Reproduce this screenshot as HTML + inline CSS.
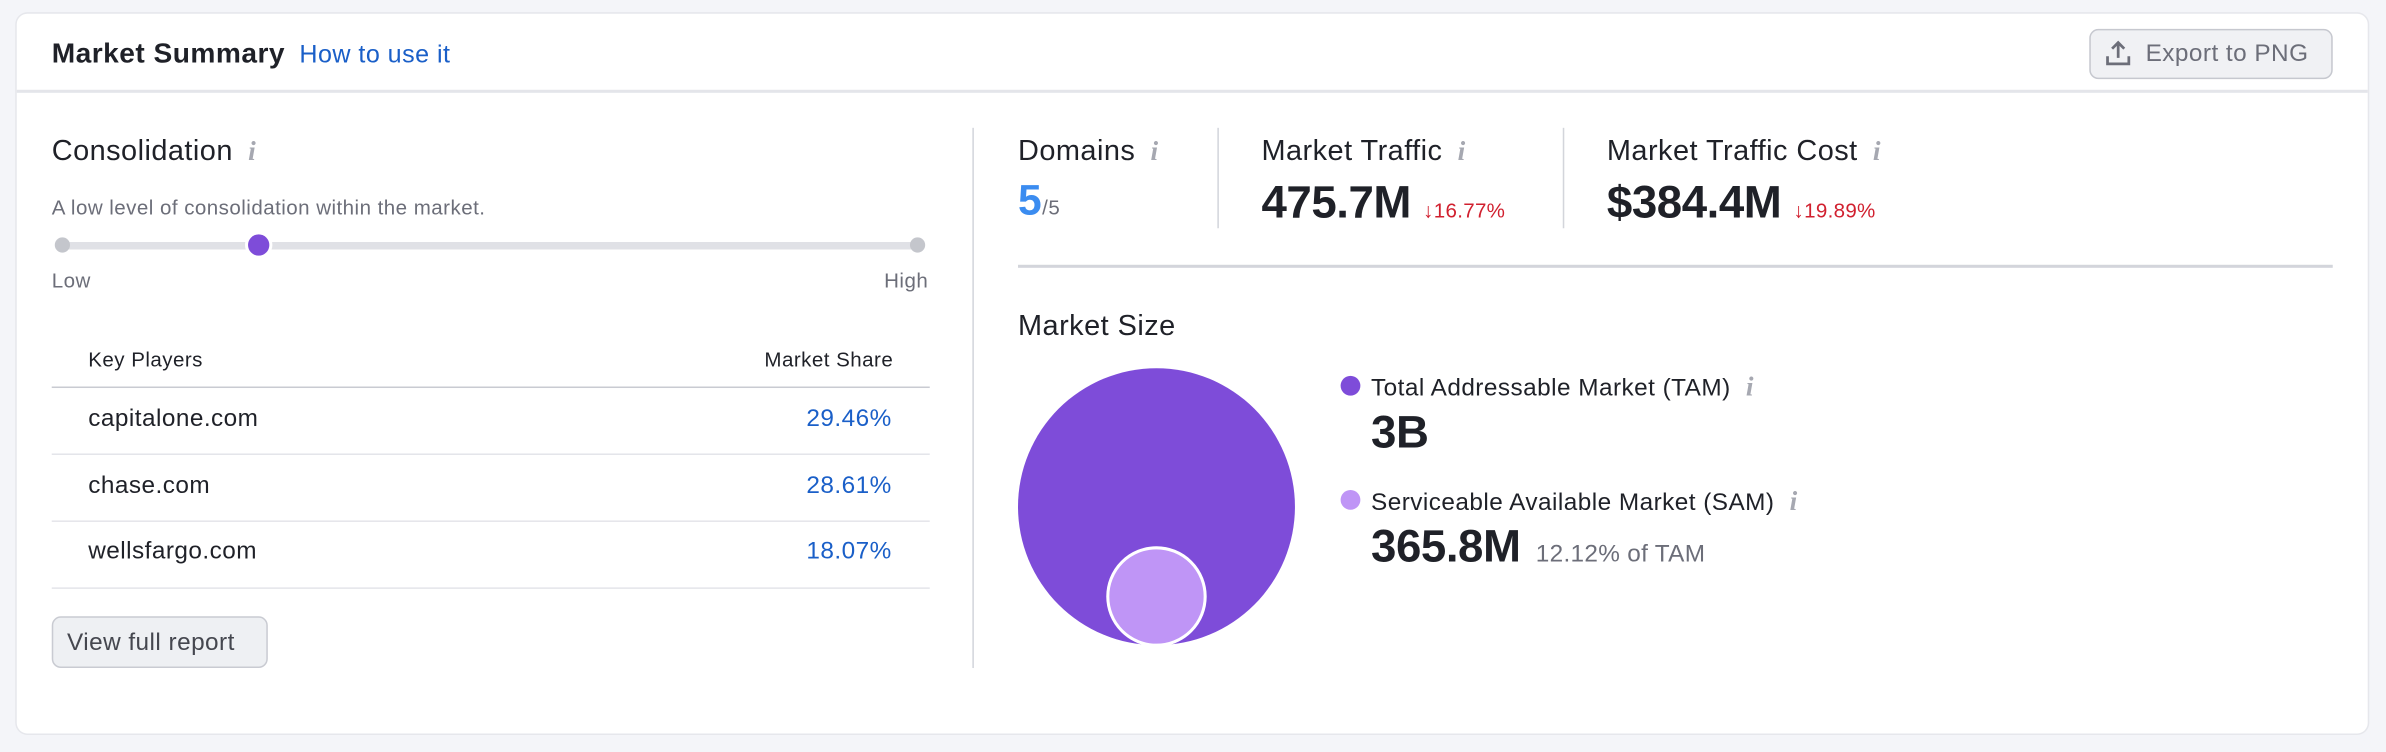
<!DOCTYPE html>
<html><head><meta charset="utf-8"><style>
*{margin:0;padding:0;box-sizing:border-box}
html,body{width:2386px;height:752px;overflow:hidden;background:#f4f5f9}
#w{position:absolute;left:0;top:0;width:1568px;height:494px;transform:scale(1.52168);transform-origin:0 0;font-family:"Liberation Sans",sans-serif;color:#1f2128;letter-spacing:0.3px}
.a{position:absolute;white-space:nowrap}
.card{position:absolute;left:11px;top:9px;width:1545px;height:473px;background:#fff;border-radius:7px;box-shadow:0 0 0 1px #e6e7ec}
.t18{font-size:19px;font-weight:500}
.gi{color:#a6a8b1;font-family:"Liberation Serif",serif;font-style:italic;font-size:18px;font-weight:bold;margin-left:10px}
.g{color:#6c6e79}
.big{font-size:30px;font-weight:bold;letter-spacing:-0.3px}
.red{color:#d1202f;font-size:13.5px;font-weight:normal;letter-spacing:0.2px;margin-left:8px}
.hl{position:absolute;height:1px;background:#e4e5ea}
.vl{position:absolute;width:1px;background:#d3d5db}
.r{text-align:right}
</style></head><body><div id="w">
<div class="card"></div>
<div class="a" style="left:34px;top:24px;font-size:18.5px;font-weight:bold">Market Summary <span style="font-weight:normal;font-size:16.5px;color:#1a5fc8;margin-left:4px">How to use it</span></div>
<div class="hl" style="left:11px;top:59px;width:1545px;height:2px;background:#e4e5ea"></div>
<div class="a" style="left:1373px;top:19px;width:160px;height:33px;background:#f0f1f4;border:1px solid #c6c8cf;border-radius:6px"></div>
<svg class="a" style="left:1382px;top:25px" width="20" height="20" viewBox="0 0 20 20"><path d="M10 13V3M6 7l4-4 4 4M3 12v5h14v-5" fill="none" stroke="#6c6e79" stroke-width="1.8"/></svg>
<div class="a g" style="left:1410px;top:27px;font-size:16px;letter-spacing:0.3px">Export to PNG</div>

<div class="a t18" style="left:34px;top:89px">Consolidation<span class="gi">i</span></div>
<div class="a g" style="left:34px;top:129px;font-size:13.5px">A low level of consolidation within the market.</div>
<div class="a" style="left:41px;top:159px;width:562px;height:5px;background:#e0e1e6;border-radius:2px"></div>
<div class="a" style="left:36px;top:156px;width:10px;height:10px;border-radius:50%;background:#c4c6cc"></div>
<div class="a" style="left:598px;top:156px;width:10px;height:10px;border-radius:50%;background:#c4c6cc"></div>
<div class="a" style="left:163px;top:154px;width:14px;height:14px;border-radius:50%;background:#7e4cd9;box-shadow:0 0 0 2px #fff"></div>
<div class="a g" style="left:34px;top:177px;font-size:13.5px">Low</div>
<div class="a g r" style="left:510px;width:100px;top:177px;font-size:13.5px">High</div>
<div class="a" style="left:58px;top:229px;font-size:13.5px">Key Players</div>
<div class="a r" style="left:437px;width:150px;top:229px;font-size:13.5px">Market Share</div>
<div class="hl" style="left:34px;top:254px;width:577px;background:#c9cbd2"></div>
<div class="a" style="left:58px;top:267px;font-size:16px">capitalone.com</div>
<div class="a r" style="left:436px;width:150px;top:267px;font-size:16px;color:#1a5fc8">29.46%</div>
<div class="hl" style="left:34px;top:298px;width:577px"></div>
<div class="a" style="left:58px;top:311px;font-size:16px">chase.com</div>
<div class="a r" style="left:436px;width:150px;top:311px;font-size:16px;color:#1a5fc8">28.61%</div>
<div class="hl" style="left:34px;top:342px;width:577px"></div>
<div class="a" style="left:58px;top:354px;font-size:16px">wellsfargo.com</div>
<div class="a r" style="left:436px;width:150px;top:354px;font-size:16px;color:#1a5fc8">18.07%</div>
<div class="hl" style="left:34px;top:386px;width:577px"></div>
<div class="a" style="left:34px;top:405px;width:142px;height:34px;background:#eef0f3;border:1px solid #c9cbd2;border-radius:6px"></div>
<div class="a" style="left:44px;top:414px;font-size:16px;color:#45474f">View full report</div>

<div class="vl" style="left:639px;top:84px;height:355px"></div>
<div class="a t18" style="left:669px;top:89px">Domains<span class="gi">i</span></div>
<div class="a" style="left:669px;top:116px;font-size:28px;font-weight:bold;color:#3b8cf0">5<span style="font-size:13.5px;font-weight:normal;color:#6c6e79">/5</span></div>
<div class="vl" style="left:800px;top:84px;height:66px"></div>
<div class="a t18" style="left:829px;top:89px">Market Traffic<span class="gi">i</span></div>
<div class="a big" style="left:829px;top:117px">475.7M<span class="red">↓16.77%</span></div>
<div class="vl" style="left:1027px;top:84px;height:66px"></div>
<div class="a t18" style="left:1056px;top:89px">Market Traffic Cost<span class="gi">i</span></div>
<div class="a big" style="left:1056px;top:117px">$384.4M<span class="red">↓19.89%</span></div>
<div class="hl" style="left:669px;top:174px;width:864px;height:2px;background:#d3d5db"></div>

<div class="a t18" style="left:669px;top:204px">Market Size</div>
<svg class="a" style="left:660px;top:235px" width="200" height="200"><circle cx="100" cy="98" r="91" fill="#7e4cd9"/><circle cx="100" cy="157" r="32" fill="#bf95f6" stroke="#fff" stroke-width="2"/></svg>
<div class="a" style="left:881px;top:247px;width:13px;height:13px;border-radius:50%;background:#7e4cd9"></div>
<div class="a" style="left:901px;top:244px;font-size:16px">Total Addressable Market (TAM)<span class="gi">i</span></div>
<div class="a big" style="left:901px;top:268px">3B</div>
<div class="a" style="left:881px;top:322px;width:13px;height:13px;border-radius:50%;background:#bf95f6"></div>
<div class="a" style="left:901px;top:319px;font-size:16px">Serviceable Available Market (SAM)<span class="gi">i</span></div>
<div class="a big" style="left:901px;top:343px">365.8M<span class="g" style="font-size:16px;font-weight:normal;margin-left:10px;letter-spacing:0.2px">12.12% of TAM</span></div>
</div></body></html>
